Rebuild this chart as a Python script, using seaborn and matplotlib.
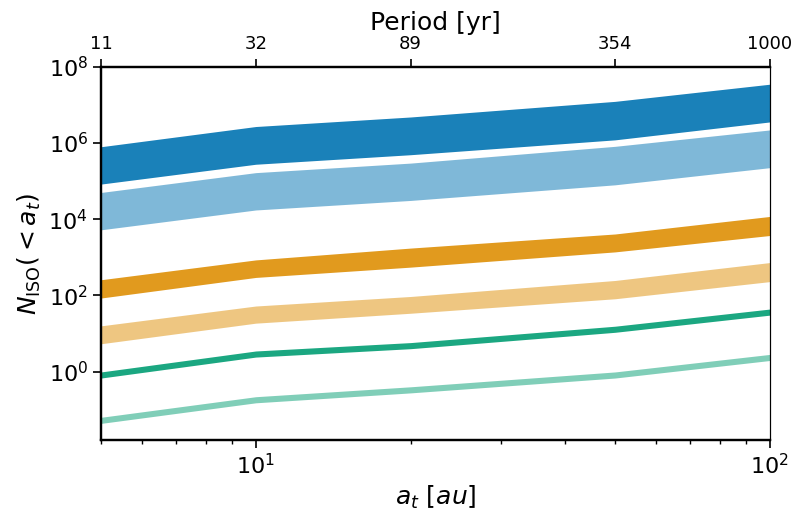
import numpy as np
import pandas as pd
import matplotlib
matplotlib.use("Agg")
import matplotlib.pyplot as plt
import seaborn as sns

# semi-major axis grid [au] and orbital period labels for the top axis
a_t = [5, 10, 20, 50, 100]
period_labels = ["11", "32", "89", "354", "1000"]

# log10 of N_ISO(<a_t), lower / upper edge of each band
blue_dark_lo = [4.92, 5.44, 5.69, 6.08, 6.55]
blue_dark_hi = [5.90, 6.43, 6.68, 7.09, 7.54]
blue_light_lo = [3.72, 4.24, 4.49, 4.90, 5.35]
blue_light_hi = [4.70, 5.22, 5.47, 5.91, 6.34]
orange_dark_lo = [1.93, 2.47, 2.74, 3.14, 3.57]
orange_dark_hi = [2.41, 2.93, 3.24, 3.61, 4.07]
orange_light_lo = [0.73, 1.27, 1.53, 1.91, 2.36]
orange_light_hi = [1.20, 1.72, 1.97, 2.39, 2.86]
green_dark_lo = [-0.17, 0.38, 0.60, 1.03, 1.48]
green_dark_hi = [-0.01, 0.54, 0.76, 1.19, 1.64]
green_light_lo = [-1.36, -0.82, -0.56, -0.17, 0.29]
green_light_hi = [-1.20, -0.66, -0.40, -0.01, 0.45]

pal = sns.color_palette("colorblind")
bands = [
    (blue_dark_lo, blue_dark_hi, pal[0], 0.9),
    (blue_light_lo, blue_light_hi, pal[0], 0.5),
    (orange_dark_lo, orange_dark_hi, pal[1], 0.9),
    (orange_light_lo, orange_light_hi, pal[1], 0.5),
    (green_dark_lo, green_dark_hi, pal[2], 0.9),
    (green_light_lo, green_light_hi, pal[2], 0.5),
]

sns.set_style("ticks", {"axes.edgecolor": "black", "xtick.color": "black",
                        "ytick.color": "black", "text.color": "black",
                        "axes.labelcolor": "black"})
plt.rcParams["font.family"] = ["DejaVu Sans"]
plt.rcParams["mathtext.fontset"] = "dejavusans"

fig, ax = plt.subplots(figsize=(7.96, 5.13), dpi=100)

for lo, hi, col, alpha in bands:
    df = pd.DataFrame({"a": a_t, "lo": 10 ** np.array(lo), "hi": 10 ** np.array(hi)})
    ax.fill_between(df["a"], df["lo"], df["hi"], color=col, alpha=alpha, lw=0)

ax.set_xscale("log")
ax.set_yscale("log")
ax.set_xlim(5, 100)
ax.set_ylim(10 ** -1.8, 1e8)
ax.set_yticks([1e0, 1e2, 1e4, 1e6, 1e8])
ax.tick_params(axis="both", which="major", labelsize=16, length=6, width=1.2)
ax.tick_params(axis="x", which="minor", length=3, width=1)
ax.tick_params(axis="y", which="minor", left=False)
ax.set_xlabel(r"$a_t\ [au]$", fontsize=18)
ax.set_ylabel(r"$N_{\rm ISO}(<a_t)$", fontsize=18)
for side in ["left", "bottom", "top"]:
    ax.spines[side].set_linewidth(1.6)
ax.spines["right"].set_linewidth(0.8)

# top axis: orbital period
ax2 = ax.twiny()
ax2.set_xscale("log")
ax2.set_xlim(ax.get_xlim())
ax2.set_xticks(a_t)
ax2.set_xticklabels(period_labels)
ax2.xaxis.set_minor_locator(matplotlib.ticker.NullLocator())
ax2.tick_params(axis="x", labelsize=13, length=6, width=1.2)
ax2.set_xlabel("Period [yr]", fontsize=18)
for side in ["left", "bottom", "top"]:
    ax2.spines[side].set_linewidth(1.6)
ax2.spines["right"].set_linewidth(0.8)

fig.subplots_adjust(left=0.127, right=0.967, bottom=0.142, top=0.870)
fig.savefig("out.png", dpi=100)
